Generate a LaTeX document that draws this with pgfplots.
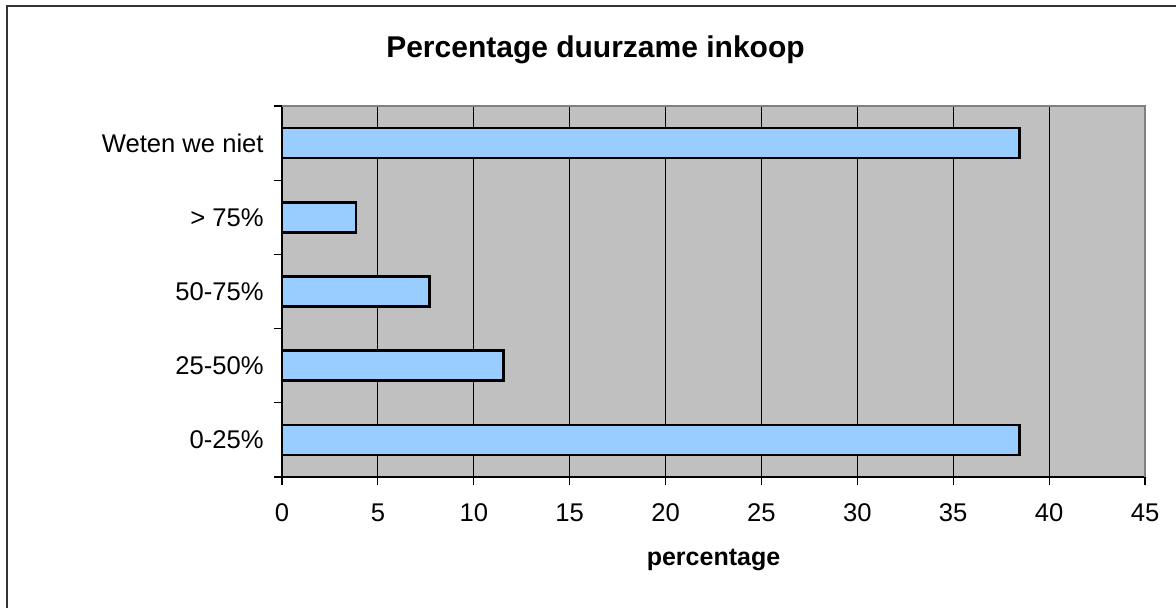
\documentclass[border=0pt]{standalone}
\usepackage{fontspec}
\setmainfont{Liberation Sans}
\usepackage{pgfplots}
\pgfplotsset{compat=1.18}
\definecolor{plotbg}{HTML}{C0C0C0}
\definecolor{barfill}{HTML}{99CCFF}
\definecolor{border}{HTML}{808080}
\begin{document}
\begin{tikzpicture}
  \begin{axis}[
    at={(0,0)}, anchor=south west,
    scale only axis,
    width=431.5pt, height=185.5pt,
    xmin=0, xmax=45, ymin=-0.5, ymax=4.5,
    axis lines*=left,
    axis line style={black, line width=0.9pt, -},
    axis background/.style={fill=plotbg},
    xtick={0,5,...,45},
    ytick={0,1,2,3,4},
    yticklabels={0-25\%,25-50\%,50-75\%,> 75\%,Weten we niet},
    minor ytick={-0.5,0.5,1.5,2.5,3.5,4.5},
    tick align=outside,
    major tick length=4pt,
    minor tick length=4pt,
    y tick style={draw=none},
    minor y tick style={draw=black, line width=0.6pt},
    x tick style={black, line width=0.6pt},
    xmajorgrids,
    major x grid style={black, line width=0.5pt},
    /pgf/number format/assume math mode=true,
    ticklabel style={font=\fontsize{12.8}{15}\selectfont},
    xticklabel style={anchor=base, yshift=-18.5pt},
    yticklabel style={anchor=east, inner sep=0pt, xshift=-5pt},
    xlabel={percentage},
    xlabel style={font=\fontsize{12.5}{15}\selectfont\bfseries, at={(rel axis cs:0.5,0)}, anchor=base, yshift=-44.5pt},
    clip=false,
  ]
    \addplot[xbar, bar width=15pt, fill=barfill, draw=black, line width=1.3pt] coordinates {
      (38.46,0)
      (11.54,1)
      (7.69,2)
      (3.85,3)
      (38.46,4)
    };
    \draw[border, line width=1pt] (rel axis cs:0,1) -- (rel axis cs:1,1) -- (rel axis cs:1,0);
  \end{axis}
  \node[anchor=base, font=\fontsize{15}{18}\selectfont\bfseries] at (156.75pt,209.5pt) {Percentage duurzame inkoop};
  \draw[black!80, line width=1pt] (-137.25pt,-80pt) -- (-137.25pt,235.25pt) -- (460pt,235.25pt);
  \pgfresetboundingbox
  \path[use as bounding box] (-141pt,-65.5pt) rectangle (447pt,238.5pt);
\end{tikzpicture}
\end{document}
